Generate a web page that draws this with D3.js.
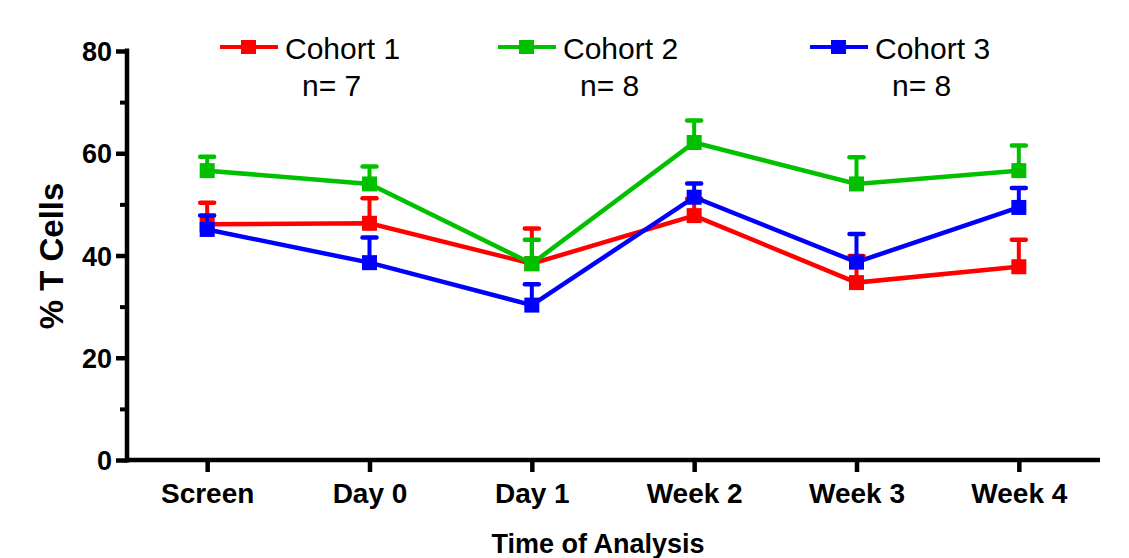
<!DOCTYPE html>
<html>
<head>
<meta charset="utf-8">
<script src="https://cdn.jsdelivr.net/npm/d3@7"></script>
<style>
  body { margin: 0; background: #fff; }
  svg { display: block; font-family: "Liberation Sans", Arial, sans-serif; }
</style>
</head>
<body>
<svg id="chart" width="1129" height="558"></svg>
<script>
// data (mean and upward SEM bar)
const timepoints = ['Screen', 'Day 0', 'Day 1', 'Week 2', 'Week 3', 'Week 4']
const cohortNames = ['Cohort 1', 'Cohort 2', 'Cohort 3']
const cohortN = ['n= 7', 'n= 8', 'n= 8']
const cohortColors = ['#ff0000', '#00c000', '#0000ff']
const cohort1Mean = [46.1, 46.3, 38.4, 47.8, 34.7, 37.8]
const cohort1Sem = [4.2, 4.9, 6.9, 3.3, 5.2, 5.3]
const cohort2Mean = [56.6, 54.0, 38.4, 62.1, 54.0, 56.6]
const cohort2Sem = [2.7, 3.4, 4.7, 4.3, 5.2, 4.9]
const cohort3Mean = [45.1, 38.6, 30.3, 51.4, 38.7, 49.4]
const cohort3Sem = [2.7, 4.9, 4.1, 2.7, 5.5, 3.8]
const yMajorTicks = [0, 20, 40, 60, 80]
const yMinorTicks = [10, 30, 50, 70]

const means = [cohort1Mean, cohort2Mean, cohort3Mean]
const sems = [cohort1Sem, cohort2Sem, cohort3Sem]

const svg = d3.select('#chart')

const x = d3.scalePoint().domain(timepoints).range([126, 1100]).padding(0.5)
const y = d3.scaleLinear().domain([0, 80]).range([460, 51])

// y axis
const yAxis = svg.append('g').attr('transform', 'translate(127,0)')
  .call(d3.axisLeft(y).tickValues(yMajorTicks).tickSize(11).tickSizeOuter(0).tickPadding(4))
yAxis.select('.domain').remove()
yAxis.selectAll('.tick line').attr('stroke', '#000').attr('stroke-width', 4.5)
yAxis.selectAll('.tick text')
  .attr('fill', '#000')
  .style('font-size', '27px')
  .style('font-weight', 'bold')
  .attr('dy', '0.36em')

const yMinor = svg.append('g').attr('transform', 'translate(127,0)')
  .call(d3.axisLeft(y).tickValues(yMinorTicks).tickSize(7).tickFormat(''))
yMinor.select('.domain').remove()
yMinor.selectAll('.tick line').attr('stroke', '#000').attr('stroke-width', 4)

svg.append('line')
  .attr('x1', 127).attr('x2', 127)
  .attr('y1', y(80) - 2.5).attr('y2', y(0) + 2.5)
  .attr('stroke', '#000').attr('stroke-width', 4.5)

// x axis
const xAxis = svg.append('g').attr('transform', 'translate(0,' + y(0) + ')')
  .call(d3.axisBottom(x).tickSize(12).tickSizeOuter(0))
xAxis.select('.domain').remove()
xAxis.selectAll('.tick line').attr('stroke', '#000').attr('stroke-width', 4.5)
xAxis.selectAll('.tick text')
  .attr('fill', '#000')
  .attr('y', 43)
  .attr('dy', 0)
  .style('font-size', '28px')
  .style('font-weight', 'bold')

svg.append('line')
  .attr('x1', 125).attr('x2', 1100)
  .attr('y1', y(0)).attr('y2', y(0))
  .attr('stroke', '#000').attr('stroke-width', 4.5)

// axis titles
svg.append('text')
  .attr('x', 598).attr('y', 553)
  .attr('text-anchor', 'middle')
  .style('font-size', '27px').style('font-weight', 'bold')
  .text('Time of Analysis')

svg.append('text')
  .attr('transform', 'translate(63,256) rotate(-90)')
  .attr('text-anchor', 'middle')
  .style('font-size', '33px').style('font-weight', 'bold')
  .text('% T Cells')

// series: red, then blue, then green on top
const drawOrder = [0, 2, 1]
const capHalf = 7
drawOrder.forEach(function (c) {
  const g = svg.append('g')
  const col = cohortColors[c]
  const pts = timepoints.map(function (t, i) { return { t: t, m: means[c][i], s: sems[c][i] } })

  // error bars (upper only)
  g.selectAll('.err').data(pts).join('line')
    .attr('x1', d => x(d.t)).attr('x2', d => x(d.t))
    .attr('y1', d => y(d.m)).attr('y2', d => y(d.m + d.s))
    .attr('stroke', col).attr('stroke-width', 4)
  g.selectAll('.cap').data(pts).join('line')
    .attr('x1', d => x(d.t) - capHalf).attr('x2', d => x(d.t) + capHalf)
    .attr('y1', d => y(d.m + d.s)).attr('y2', d => y(d.m + d.s))
    .attr('stroke', col).attr('stroke-width', 4.5).attr('stroke-linecap', 'round')

  g.append('path')
    .datum(pts)
    .attr('fill', 'none')
    .attr('stroke', col)
    .attr('stroke-width', 4.5)
    .attr('d', d3.line().x(d => x(d.t)).y(d => y(d.m)))

  g.selectAll('rect').data(pts).join('rect')
    .attr('x', d => x(d.t) - 7.5).attr('y', d => y(d.m) - 7.5)
    .attr('width', 15).attr('height', 15)
    .attr('fill', col)
})

// legend
const legendX = [220, 498, 810]
cohortNames.forEach(function (name, i) {
  const lg = svg.append('g').attr('transform', 'translate(' + legendX[i] + ',0)')
  lg.append('line')
    .attr('x1', 0).attr('x2', 58).attr('y1', 47).attr('y2', 47)
    .attr('stroke', cohortColors[i]).attr('stroke-width', 4)
  lg.append('rect')
    .attr('x', 21).attr('y', 40).attr('width', 15).attr('height', 14)
    .attr('fill', cohortColors[i])
  lg.append('text')
    .attr('x', 65).attr('y', 59)
    .style('font-size', '30px')
    .text(name)
  lg.append('text')
    .attr('x', 82).attr('y', 96)
    .style('font-size', '30px')
    .text(cohortN[i])
})
</script>
</body>
</html>
